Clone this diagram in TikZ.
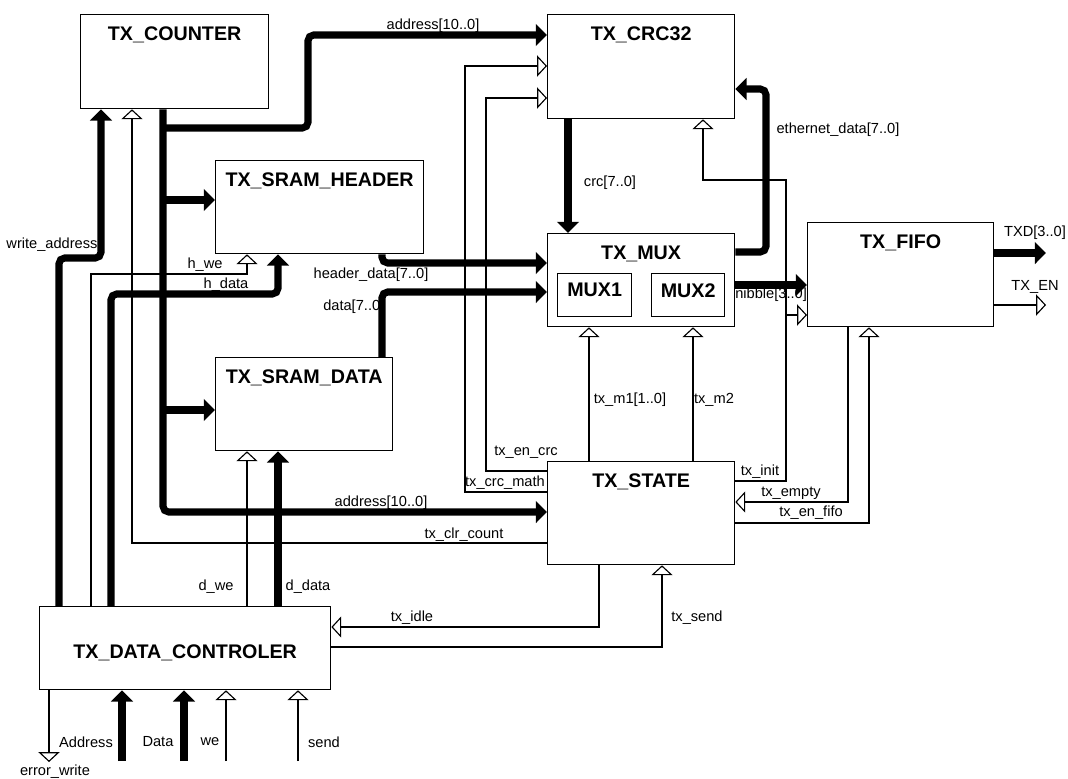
\documentclass[tikz,border=0pt]{standalone}
\usepackage{fontspec}
\setmainfont{Liberation Sans}
\usetikzlibrary{arrows.meta, positioning}

\tikzset{
  block/.style={draw, line width=0.9pt, anchor=north west, inner sep=0pt},
  title/.style={font=\fontsize{14}{16}\selectfont\bfseries, inner sep=0pt},
  lbl/.style={font=\fontsize{10.4}{12}\selectfont, inner sep=0pt},
  bus/.style={line width=5pt, rounded corners=4pt, -{Triangle[length=8pt,width=15.5pt]}},
  sig/.style={line width=0.8pt, -{Triangle[open,length=7pt,width=15pt]}},
}

\begin{document}
\begin{tikzpicture}[x=0.025cm, y=-0.025cm]
  \useasboundingbox (0,0) rectangle (1068,778);

  % Blocks
  \node[block, minimum width=4.7cm, minimum height=2.35cm] (cnt) at (80,14) {};
  \node[block, minimum width=5.2cm, minimum height=2.325cm] (hdr) at (215,160) {};
  \node[block, minimum width=4.425cm, minimum height=2.325cm] (dat) at (215,357) {};
  \node[block, minimum width=4.675cm, minimum height=2.6cm] (crc) at (547,14) {};
  \node[block, minimum width=4.675cm, minimum height=2.325cm] (mux) at (547,233) {};
  \node[block, minimum width=1.85cm, minimum height=1.075cm, font=\fontsize{14}{16}\selectfont\bfseries, text depth=7pt] (mux1) at (557,273) {MUX1};
  \node[block, minimum width=1.825cm, minimum height=1.075cm, font=\fontsize{14}{16}\selectfont\bfseries, text depth=7pt] (mux2) at (651,273) {MUX2};
  \node[block, minimum width=4.65cm, minimum height=2.6cm] (fifo) at (807,222) {};
  \node[block, minimum width=4.675cm, minimum height=2.575cm] (st) at (547,461) {};
  \node[block, minimum width=7.275cm, minimum height=2.075cm] (dctl) at (39,606) {};

  % Titles
  \node[title, below=9pt of cnt.north] (cnt-t) {TX\_COUNTER};
  \node[title, below=9pt of hdr.north] (hdr-t) {TX\_SRAM\_HEADER};
  \node[title, below=9pt of dat.north] (dat-t) {TX\_SRAM\_DATA};
  \node[title, below=9pt of crc.north] (crc-t) {TX\_CRC32};
  \node[title, below=9pt of mux.north] (mux-t) {TX\_MUX};
  \node[title, below=9pt of fifo.north] (fifo-t) {TX\_FIFO};
  \node[title, below=9pt of st.north] (st-t) {TX\_STATE};
  \node[title, below=27.5pt of dctl.north] (dctl-t) {TX\_DATA\_CONTROLER};

  % Signal names
  \node[lbl] (l-addr1) at (433,26) {address[10..0]};
  \node[lbl] (l-waddr) at (52,245) {write\_address};
  \node[lbl] (l-hwe) at (205,265) {h\_we};
  \node[lbl] (l-hdata) at (226,285) {h\_data};
  \node[lbl] (l-hdr) at (371,275) {header\_data[7..0]};
  \node[lbl, anchor=west] (l-data) at (323,307) {data[7..0]};
  \node[lbl] (l-crc) at (610,183) {crc[7..0]};
  \node[lbl] (l-eth) at (838,130) {ethernet\_data[7..0]};
  \node[lbl, anchor=west] (l-nib) at (735,295) {nibble[3..0]};
  \node[lbl] (l-m1) at (630,400) {tx\_m1[1..0]};
  \node[lbl] (l-m2) at (714,400) {tx\_m2};
  \node[lbl] (l-encrc) at (526,452) {tx\_en\_crc};
  \node[lbl] (l-math) at (505,483) {tx\_crc\_math};
  \node[lbl] (l-init) at (760,472) {tx\_init};
  \node[lbl] (l-empty) at (791,493) {tx\_empty};
  \node[lbl] (l-enfifo) at (811,513) {tx\_en\_fifo};
  \node[lbl] (l-addr2) at (381,503) {address[10..0]};
  \node[lbl] (l-clr) at (464,535) {tx\_clr\_count};
  \node[lbl] (l-dwe) at (216,587) {d\_we};
  \node[lbl] (l-ddata) at (308,587) {d\_data};
  \node[lbl] (l-idle) at (412,618) {tx\_idle};
  \node[lbl] (l-send) at (697,618) {tx\_send};
  \node[lbl] (l-txd) at (1035,233) {TXD[3..0]};
  \node[lbl] (l-txen) at (1035,287) {TX\_EN};
  \node[lbl] (l-a) at (86,742) {Address};
  \node[lbl] (l-d) at (158,742) {Data};
  \node[lbl] (l-we) at (210,742) {we};
  \node[lbl] (l-s) at (324,742) {send};
  \node[lbl] (l-err) at (55,772) {error\_write};

  % Control lines
  \draw[sig] (st.west |- 0,543) -| (132,0 |- cnt.south);
  \draw[sig] (91,0 |- dctl.north) |- (247,274) -- (247,0 |- hdr.south);
  \draw[sig] (247,0 |- dctl.north) -- (247,0 |- dat.south);
  \draw[sig] (st.west |- 0,471) -| (486,98) -- (crc.west |- 0,98);
  \draw[sig] (st.west |- 0,492) -| (465,66) -- (crc.west |- 0,66);
  \draw[sig] (589,0 |- st.north) -- (589,0 |- mux.south);
  \draw[sig] (693,0 |- st.north) -- (693,0 |- mux.south);
  \draw[sig] (st.east |- 0,481) -| (786,180) -| (703,0 |- crc.south);
  \draw[sig] (786,315) -- (fifo.west |- 0,315);
  \draw[sig] (848,0 |- fifo.south) |- (st.east |- 0,502);
  \draw[sig] (st.east |- 0,523) -| (869,0 |- fifo.south);
  \draw[sig] (fifo.east |- 0,305) -- (1046,305);
  \draw[sig] (599,0 |- st.south) |- (dctl.east |- 0,627);
  \draw[sig] (dctl.east |- 0,647) -| (662,0 |- st.south);
  \draw[sig] (49,0 |- dctl.south) -- (49,762);
  \draw[sig] (226,761) -- (226,0 |- dctl.south);
  \draw[sig] (298,761) -- (298,0 |- dctl.south);

  % Buses
  \draw[bus] (163,0 |- cnt.south) |- (st.west |- 0,512);
  \draw[bus] (163,128) -| (308,35) -- (crc.west |- 0,35);
  \draw[bus] (163,200) -- (hdr.west |- 0,200);
  \draw[bus] (163,410) -- (dat.west |- 0,410);
  \draw[bus] (59,0 |- dctl.north) |- (101,258) -- (101,0 |- cnt.south);
  \draw[bus] (111,0 |- dctl.north) |- (278,294) -- (278,0 |- hdr.south);
  \draw[bus] (278,0 |- dctl.north) -- (278,0 |- dat.south);
  \draw[bus] (382,0 |- hdr.south) |- (mux.west |- 0,263);
  \draw[bus] (382,0 |- dat.north) |- (mux.west |- 0,292);
  \draw[bus] (568,0 |- crc.south) -- (568,0 |- mux.north);
  \draw[bus] (mux.east |- 0,252) -| (766,89) -- (crc.east |- 0,89);
  \draw[bus] (mux.east |- 0,285) -- (fifo.west |- 0,285);
  \draw[bus] (fifo.east |- 0,253) -- (1046,253);
  \draw[bus] (122,761) -- (122,0 |- dctl.south);
  \draw[bus] (184,761) -- (184,0 |- dctl.south);
\end{tikzpicture}
\end{document}
